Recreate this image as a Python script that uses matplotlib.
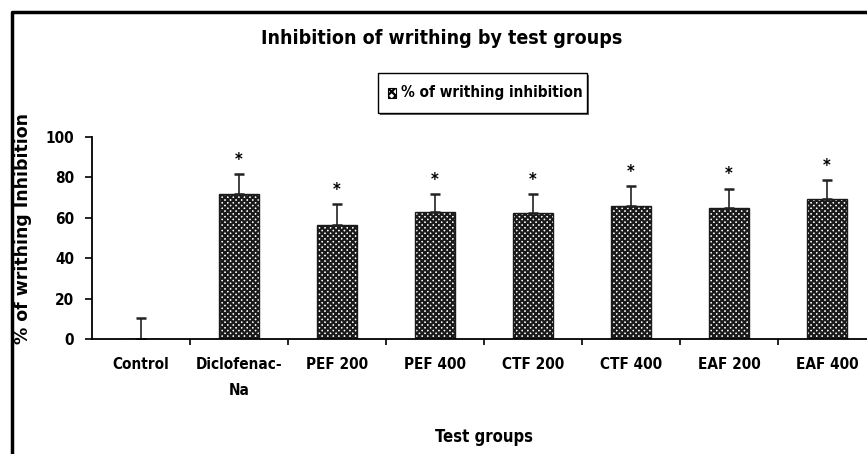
import numpy as np
import matplotlib.pyplot as plt
from matplotlib.patches import Rectangle

groups = ['Control', 'Diclofenac-\nNa', 'PEF 200', 'PEF 400', 'CTF 200', 'CTF 400', 'EAF 200', 'EAF 400']
inhibition = [0, 72, 56.5, 63, 62.5, 66, 65, 69.5]
sem = [10.5, 9.7, 10.5, 9.0, 9.5, 9.7, 9.5, 9.3]
significant = [False, True, True, True, True, True, True, True]

plt.rcParams['font.family'] = ['DejaVu Sans']
plt.rcParams['font.stretch'] = 'condensed'
plt.rcParams['hatch.linewidth'] = 1.6

fig = plt.figure(figsize=(8.67, 4.54), dpi=100)
ax = fig.add_axes([92 / 867, 115 / 454, 784 / 867, 202 / 454])

x = np.arange(len(groups))
ax.bar(x, inhibition, width=0.41, color='white', edgecolor='#1a1a1a',
       hatch='xxxxxx', linewidth=1.0)
ax.errorbar(x, inhibition, yerr=[np.zeros(len(sem)), sem], fmt='none',
            ecolor='#222222', elinewidth=1.2, capsize=3.5, capthick=1.8)
for xi, v, e, s in zip(x, inhibition, sem, significant):
    if s:
        ax.text(xi, v + e + 2.5, '*', ha='center', va='bottom',
                fontsize=12, fontweight='bold')

ax.set_xlim(-0.5, 7.5)
ax.set_ylim(0, 100)
ax.set_yticks([0, 20, 40, 60, 80, 100])
ax.set_yticklabels(['0', '20', '40', '60', '80', '100'], fontsize=11, fontweight='bold')
ax.tick_params(axis='y', direction='out', length=5, width=1.2, pad=8)

ax.set_xticks(x + 0.5)
ax.set_xticklabels([])
ax.tick_params(axis='x', direction='out', length=4, width=1.2)
for xi, g in zip(x, groups):
    ax.text(xi, -9, g, ha='center', va='top', fontsize=11, fontweight='bold',
            linespacing=1.9)

for sp in ['top', 'right']:
    ax.spines[sp].set_visible(False)
ax.spines['left'].set_linewidth(1.3)
ax.spines['bottom'].set_linewidth(1.3)

fig.text(23 / 867, 1 - 229 / 454, '% of writhing Inhibition', rotation=90,
         ha='center', va='center', fontsize=12.5, fontweight='bold',
         fontstretch='normal')
fig.text(484 / 867, 1 - 437 / 454, 'Test groups', ha='center', va='center',
         fontsize=12, fontweight='bold')
fig.text(442 / 867, 1 - 38 / 454, 'Inhibition of writhing by test groups',
         ha='center', va='center', fontsize=14, fontweight='heavy')

# legend box
lx0, ly0, lw, lh = 378 / 867, 1 - 113 / 454, 209 / 867, 40 / 454
fig.patches.append(Rectangle((lx0 + 0.002, ly0 - 0.004), lw, lh, transform=fig.transFigure,
                             facecolor='#666666', edgecolor='none', zorder=1))
fig.patches.append(Rectangle((lx0, ly0), lw, lh, transform=fig.transFigure,
                             facecolor='white', edgecolor='black', linewidth=1.0, zorder=2))
fig.patches.append(Rectangle((lx0 + 0.012, ly0 + lh / 2 - 0.011), 0.009, 0.022,
                             transform=fig.transFigure, facecolor='white',
                             edgecolor='black', hatch='xxxx', linewidth=0.8, zorder=3))
fig.text(lx0 + 0.026, ly0 + lh / 2, '% of writhing inhibition', ha='left', va='center',
         fontsize=11, fontweight='bold', zorder=4)

# outer frame (left and top edges visible)
fig.add_artist(plt.Line2D([12 / 867, 12 / 867, 1], [0, 1 - 12 / 454, 1 - 12 / 454],
                          transform=fig.transFigure, color='black', linewidth=2.5))

fig.savefig('out.png', dpi=100)
